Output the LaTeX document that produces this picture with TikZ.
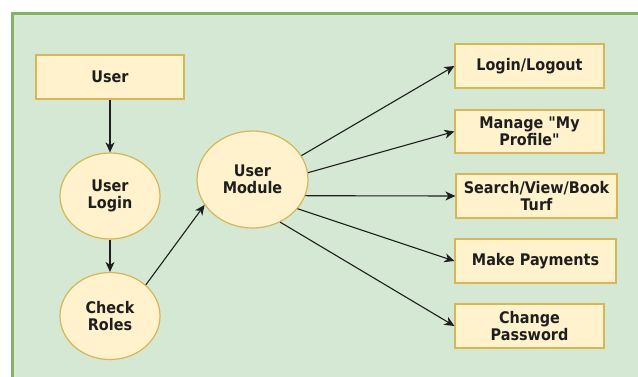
\documentclass[tikz,border=0pt]{standalone}
\usepackage{fontspec}
% a family of its own, so that " stays a straight quote
\newfontfamily\lblfont{DejaVu Sans Condensed}
\usetikzlibrary{arrows.meta,shapes.geometric}
\definecolor{panelfill}{HTML}{D5E8D4}
\definecolor{panelline}{HTML}{82B366}
\definecolor{boxfill}{HTML}{FFF2CC}
\definecolor{boxline}{HTML}{D6B656}
\definecolor{ink}{HTML}{1E1E1E}
\newcommand{\lbl}{\lblfont\fontsize{16}{17.5}\selectfont\bfseries}
\begin{document}
\begin{tikzpicture}[x=1pt,y=-1pt,
  box/.style={draw=boxline, fill=boxfill, line width=1.2pt, align=center,
    font=\lbl, text=ink, inner sep=0pt, minimum height=44pt},
  oval/.style={ellipse, draw=boxline, fill=boxfill, line width=1.2pt, align=center,
    font=\lbl, text=ink, inner sep=0pt},
  flow/.style={draw=ink, line width=1.1pt, -{Stealth[length=10pt,width=9pt,inset=3pt]}}]
  \useasboundingbox (0,0) rectangle (638,376);
  % green panel behind everything
  \draw[panelline, line width=3pt, fill=panelfill] (12,13) rectangle (660,400);

  % left column
  \node[box, minimum width=148pt] (user) at (110,77) {User};
  \node[oval, minimum width=100pt, minimum height=86pt] (login) at (110,196) {User\\Login};
  \node[oval, minimum width=100pt, minimum height=87pt] (roles) at (110,316) {Check\\Roles};
  \node[oval, minimum width=111pt, minimum height=97pt] (um) at (252.5,179.5) {User\\Module};

  % right column of functions
  \node[box, minimum width=149pt] (logout) at (529.5,66) {Login/Logout};
  \node[box, minimum width=149pt, minimum height=43pt] (profile) at (529.5,131.5) {Manage "My\\Profile"};
  \node[box, minimum width=161pt] (search) at (536.5,196) {Search/View/Book\\Turf};
  \node[box, minimum width=161pt] (pay) at (535.5,261) {Make Payments};
  \node[box, minimum width=149pt] (pwd) at (529.5,326) {Change\\Password};

  % connectors
  \draw[flow] (user) -- (login);
  \draw[flow] (login) -- (roles);
  \draw[flow] (roles.41.6) -- (um.208);
  \draw[flow] (um.26) -- (logout.west);
  \draw[flow] (um.7) -- (profile.west);
  \draw[flow] (um.-17) -- (search.west);
  \draw[flow] (um.-33) -- (pay.west);
  \draw[flow] (um.-57) -- (pwd.west);
\end{tikzpicture}
\end{document}
